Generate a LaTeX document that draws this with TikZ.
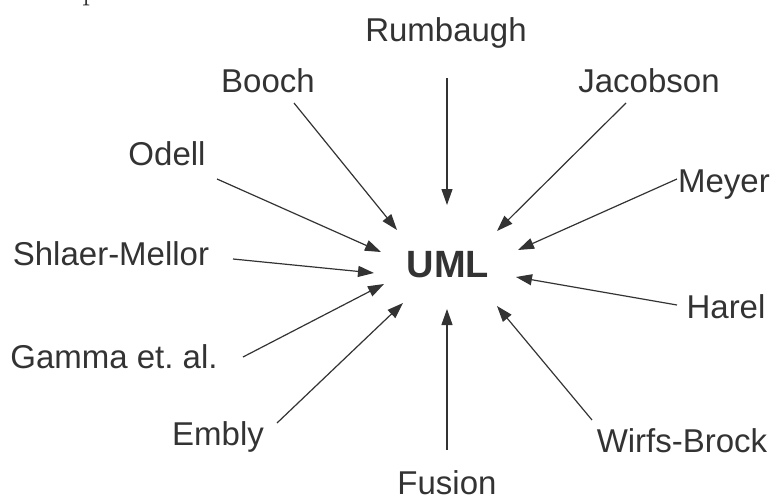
\documentclass[tikz,border=0pt]{standalone}
\usepackage{fontspec}
\setmainfont{Liberation Sans}
\newfontfamily\lmfont{Latin Modern Roman}
\usetikzlibrary{arrows.meta}
\definecolor{ink}{HTML}{333333}
\frenchspacing
\tikzset{
  lbl/.style={anchor=base, inner sep=0pt, text=ink, font=\fontsize{33}{40}\selectfont},
  hub/.style={anchor=base, inner sep=0pt, text=ink, font=\fontsize{38}{46}\selectfont\bfseries},
  arr/.style={draw=ink, line width=1.2pt, -{Triangle[length=16pt, width=11pt]}}
}
\begin{document}
\begin{tikzpicture}[x=1pt, y=-1pt]
\useasboundingbox (0,0) rectangle (780,498);
\begin{scope}
\clip (0,0) rectangle (780,498);
\node[anchor=base west, inner sep=0pt, text=ink, font=\lmfont\fontsize{33}{40}\selectfont] (frag) at (82,-0.5) {p};
\end{scope}
% labels
\node[hub] (uml) at (448,277) {UML};
\node[lbl] (rumbaugh) at (446,41) {Rumbaugh};
\node[lbl] (booch) at (268,92) {Booch};
\node[lbl] (jacobson) at (649,92) {Jacobson};
\node[lbl] (odell) at (167,165) {Odell};
\node[lbl] (meyer) at (724,192) {Meyer};
\node[lbl] (shlaer) at (111,265) {Shlaer-Mellor};
\node[lbl] (harel) at (726,318) {Harel};
\node[lbl] (gamma) at (114,368) {Gamma et.\ al.};
\node[lbl] (embly) at (218,445) {Embly};
\node[lbl] (wirfs) at (682,452) {Wirfs-Brock};
\node[lbl] (fusion) at (447,494) {Fusion};
% arrow end points
\coordinate (s-rumbaugh) at (447,78);  \coordinate (t-rumbaugh) at (447,205);
\coordinate (s-booch) at (294,103);    \coordinate (t-booch) at (397,230);
\coordinate (s-jacobson) at (626,103); \coordinate (t-jacobson) at (497,231);
\coordinate (s-odell) at (217,179);    \coordinate (t-odell) at (381,252);
\coordinate (s-meyer) at (677,179);    \coordinate (t-meyer) at (518,250);
\coordinate (s-shlaer) at (233,259);   \coordinate (t-shlaer) at (374,273);
\coordinate (s-harel) at (677,305);    \coordinate (t-harel) at (516,277);
\coordinate (s-gamma) at (243,357);    \coordinate (t-gamma) at (384,284);
\coordinate (s-embly) at (277,423);    \coordinate (t-embly) at (403,303);
\coordinate (s-wirfs) at (592,420);    \coordinate (t-wirfs) at (497,306);
\coordinate (s-fusion) at (447,450);   \coordinate (t-fusion) at (447,309);
\foreach \n in {rumbaugh,booch,jacobson,odell,meyer,shlaer,harel,gamma,embly,wirfs,fusion}
  \draw[arr] (s-\n) -- (t-\n);
\end{tikzpicture}
\end{document}
